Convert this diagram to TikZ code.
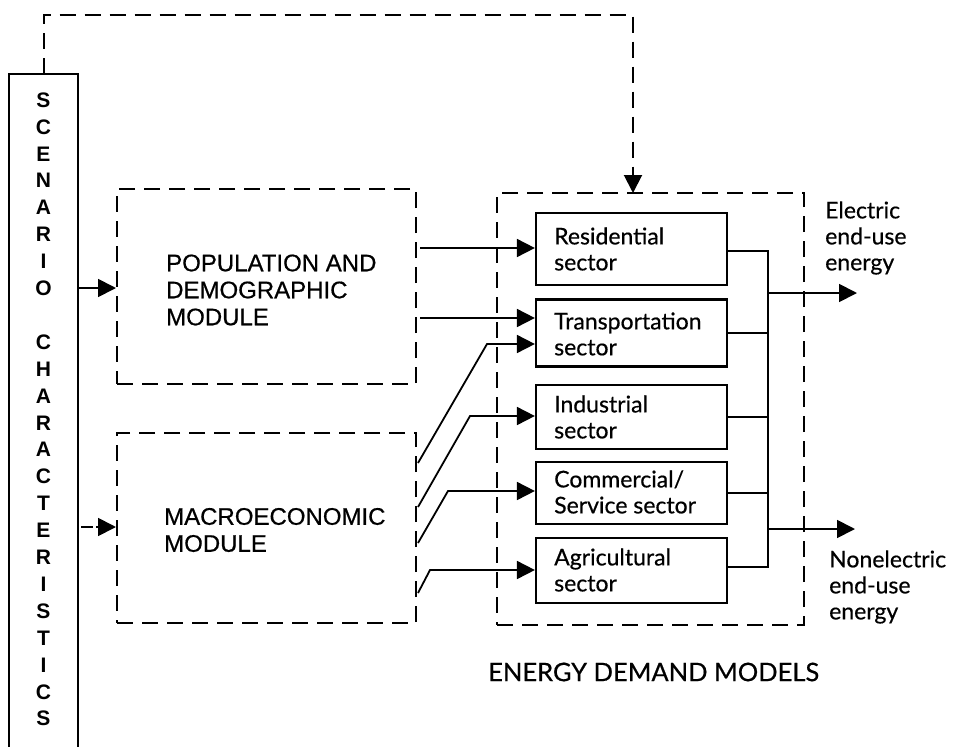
\documentclass[tikz,border=0pt]{standalone}
\usepackage{fontspec}
\setmainfont{Liberation Sans}
\newfontfamily\capsfont{Liberation Sans}[FakeBold=0.6]
\newfontfamily\sectorfont{Lato}[FakeBold=0.5]
\usetikzlibrary{arrows.meta}

\tikzset{
  solidbox/.style={draw, line width=2.2pt, rectangle, inner sep=0pt},
  dashbox/.style={draw, line width=2pt, dash pattern=on 16pt off 9pt, rectangle, inner sep=0pt},
  wire/.style={line width=1.8pt},
  flow/.style={line width=1.8pt, -{Triangle[length=18pt,width=18pt]}},
  dashflow/.style={line width=2pt, dash pattern=on 16pt off 9pt, -{Triangle[length=18pt,width=18pt]}},
  letter/.style={inner sep=0pt, font=\bfseries\fontsize{21}{25}\selectfont},
  capstext/.style={inner sep=0pt, align=left, font=\capsfont\fontsize{24}{27}\selectfont},
  sectortext/.style={inner sep=0pt, align=left, font=\sectorfont\fontsize{23}{26}\selectfont},
}

\begin{document}
\begin{tikzpicture}[x=1pt, y=-1pt]
\useasboundingbox (0,0) rectangle (956,747);

% scenario column, open at the bottom edge
\node[inner sep=0pt, minimum width=69pt, minimum height=673pt] (scen) at (43.5,410.5) {};
\draw[line width=2pt] (scen.south west) -- (scen.north west) -- (scen.north east) -- (scen.south east);
\foreach \ch [count=\i from 0] in {S,C,E,N,A,R,I,O}
  \node[letter] (sa\i) at (43.5,100+\i*26.9) {\ch};
\foreach \ch [count=\i from 9] in {C,H,A,R,A,C,T,E,R,I,S,T,I,C,S}
  \node[letter] (sb\i) at (43.5,100+\i*26.9) {\ch};

% modules
\node[dashbox, minimum width=299pt, minimum height=195pt] (pop) at (266.5,286.5) {};
\node[capstext, anchor=west] (poplbl) at (166,290) {POPULATION AND\\DEMOGRAPHIC\\MODULE};
\node[dashbox, minimum width=299pt, minimum height=190pt] (mac) at (266.5,528) {};
\node[capstext, anchor=west] (maclbl) at (164,530) {MACROECONOMIC\\MODULE};

% energy demand models
\node[dashbox, minimum width=307pt, minimum height=432pt] (edm) at (650.5,409) {};
\node[inner sep=0pt, anchor=west, font=\sectorfont\fontsize{25.5}{28}\selectfont] (edmlbl) at (488,672) {ENERGY DEMAND MODELS};

\node[solidbox, minimum width=191pt, minimum height=72pt] (res) at (631.5,249) {};
\node[solidbox, minimum width=191pt, minimum height=67pt] (tra) at (631.5,333) {};
\node[solidbox, minimum width=191pt, minimum height=64pt] (ind) at (631.5,417) {};
\node[solidbox, minimum width=191pt, minimum height=62pt] (com) at (631.5,493) {};
\node[solidbox, minimum width=191pt, minimum height=65pt] (agr) at (631.5,570.5) {};
\node[sectortext, anchor=west] (reslbl) at (554,249) {Residential\\sector};
\node[sectortext, anchor=west] (tralbl) at (554,334) {Transportation\\sector};
\node[sectortext, anchor=west] (indlbl) at (554,417) {Industrial\\sector};
\node[sectortext, anchor=west] (comlbl) at (554,492) {Commercial/\\Service sector};
\node[sectortext, anchor=west] (agrlbl) at (554,570) {Agricultural\\sector};

\node[sectortext, anchor=west] (eleclbl) at (825,238) {Electric\\end-use\\energy};
\node[sectortext, anchor=west] (nonlbl) at (829,587) {Nonelectric\\end-use\\energy};

% scenario inputs
\coordinate (popin) at (pop.west |- 0,288);
\coordinate (macin) at (mac.west |- 0,527);
\draw[flow] (scen.east |- popin) -- (popin);
\draw[line width=1.8pt] ([xshift=3pt]scen.east |- macin) -- ++(12pt,0);
\draw[flow] ([xshift=18pt]scen.east |- macin) -- (macin);

% feedback from the scenario column to the demand models
\coordinate (fbtop) at (43.5,15);
\coordinate (fbend) at (633,193);
\draw[dashflow] (scen.north) -- (fbtop) -| (fbend);

% module outputs into the sectors
\draw[flow] ([xshift=3pt]pop.east |- 0,248) -- (res.west |- 0,248);
\draw[flow] ([xshift=3pt]pop.east |- 0,318) -- (tra.west |- 0,318);
\draw[flow] ([xshift=1pt]mac.east |- 0,463) -- (487,344) -- (tra.west |- 0,344);
\draw[flow] ([xshift=1pt]mac.east |- 0,507) -- (470,416) -- (ind.west |- 0,416);
\draw[flow] ([xshift=1pt]mac.east |- 0,543) -- (448,491) -- (com.west |- 0,491);
\draw[flow] ([xshift=1pt]mac.east |- 0,593) -- (430,570) -- (agr.west |- 0,570);

% collecting bus and the two end-use outputs
\coordinate (bustop) at (768,251);
\coordinate (busbot) at (768,567);
\draw[wire] (res.east |- bustop) -- (bustop) -- (busbot) -- (agr.east |- busbot);
\draw[wire] (tra.east) -- (tra.east -| bustop);
\draw[wire] (ind.east) -- (ind.east -| bustop);
\draw[wire] (com.east) -- (com.east -| bustop);
\coordinate (elecout) at (857,293);
\coordinate (nonout) at (855,529);
\draw[flow] (elecout -| bustop) -- (elecout);
\draw[flow] (nonout -| bustop) -- (nonout);
\end{tikzpicture}
\end{document}
